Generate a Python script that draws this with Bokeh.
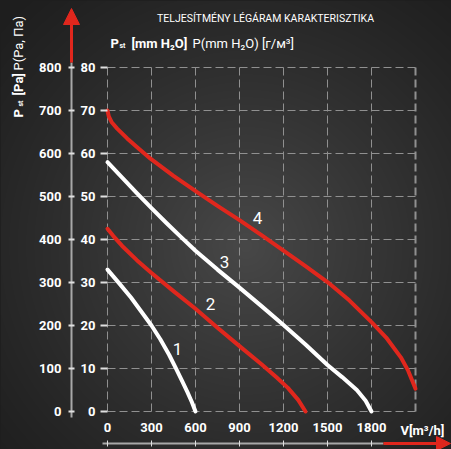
import numpy as np
from bokeh.plotting import figure
from bokeh.models import (Range1d, LinearAxis, FixedTicker, ColumnDataSource, Arrow,
                          NormalHead, GlobalInlineStyleSheet)
from bokeh.core.properties import value
from bokeh.embed import file_html
from bokeh.resources import INLINE

# ---------------- data ----------------
FLOW_TICKS = [0, 300, 600, 900, 1200, 1500, 1800]
GRID_X = [0, 300, 600, 900, 1200, 1500, 1800, 2100]
PA_TICKS = [0, 100, 200, 300, 400, 500, 600, 700, 800]
MM_TICKS = [0, 10, 20, 30, 40, 50, 60, 70, 80]

TITLE = "TELJESÍTMÉNY LÉGÁRAM KARAKTERISZTIKA"

C1_Q = [0, 80, 160, 240, 300, 360, 420, 470, 510, 545, 575, 600]
C1_P = [330, 298, 265, 228, 200, 168, 132, 98, 70, 45, 22, 0]

C2_Q = [0, 40, 100, 200, 300, 450, 600, 750, 900, 1050, 1150, 1230, 1300, 1350]
C2_P = [425, 408, 385, 352, 322, 280, 239, 195, 152, 110, 80, 55, 27, 0]

C3_Q = [0, 100, 200, 300, 400, 500, 600, 750, 900, 1050, 1200, 1350, 1500, 1600, 1700, 1760, 1800]
C3_P = [580, 544, 508, 473, 439, 406, 374, 330, 288, 245, 201, 156, 108, 80, 50, 25, 0]

C4_Q = [0, 9, 30, 66, 134, 200, 293, 450, 611, 750, 900, 1050, 1200, 1350, 1500, 1650,
        1800, 1900, 2000, 2050, 2080, 2100]
C4_P = [700, 686, 672, 658, 635, 615, 588, 548, 510, 478, 445, 410, 374, 338, 301, 258,
        208, 172, 126, 95, 70, 53]

CURVE_LABELS = ["1", "2", "3", "4"]
LABEL_Q = [477, 702, 798, 1023]
LABEL_P = [146, 251, 347, 449]

# ---------------- layout helpers (page pixels -> data) ----------------
W, H = 451, 449
FX0, FX1 = 107, 415      # x = 0 .. 2100
FY0, FY1 = 411, 67       # y = 0 .. 800


def XD(px):
    return (px - FX0) * (GRID_X[-1] - GRID_X[0]) / (FX1 - FX0)


def YD(py):
    return (FY0 - py) * (PA_TICKS[-1] - PA_TICKS[0]) / (FY0 - FY1)


x0, x1 = XD(0), XD(W)
y0, y1 = YD(H), YD(0)

RED = "#e0271d"
WHITE = "#ffffff"
GRID = "#909090"
FONT = "Roboto"

p = figure(width=W, height=H, x_range=Range1d(x0, x1), y_range=Range1d(y0, y1),
           output_backend="svg", toolbar_location=None, min_border=0,
           x_axis_type=None, y_axis_type=None)
p.outline_line_color = None
p.background_fill_color = "#1f1f1f"
p.border_fill_color = "#1f1f1f"
p.stylesheets = [GlobalInlineStyleSheet(
    css="html,body{margin:0;padding:0;background:#1f1f1f;overflow:hidden;}")]

# background radial gradient
yy, xx = np.mgrid[0:H, 0:W]
d = np.hypot(xx - 245, yy - 245)
t = np.clip(1 - d / 340.0, 0, 1) ** 1.2
v = (30 + 42 * t).astype(np.uint8)
img = np.empty((H, W), dtype=np.uint32)
view = img.view(dtype=np.uint8).reshape((H, W, 4))
view[..., 0] = v
view[..., 1] = v
view[..., 2] = v
view[..., 3] = 255
p.image_rgba(image=[img[::-1].copy()], x=x0, y=y0, dw=x1 - x0, dh=y1 - y0)

# grid
n = len(GRID_X)
p.segment(x0=GRID_X[:-1], x1=GRID_X[:-1], y0=[PA_TICKS[0]] * (n - 1), y1=[PA_TICKS[-1]] * (n - 1),
          line_color=GRID, line_width=1, line_dash="8 4")
p.segment(x0=GRID_X[-1:], x1=GRID_X[-1:], y0=[PA_TICKS[0]], y1=[PA_TICKS[-1]],
          line_color=GRID, line_width=2, line_dash="8 4")
m = len(PA_TICKS)
p.segment(x0=[GRID_X[0]] * m, x1=[GRID_X[-1]] * m, y0=PA_TICKS, y1=PA_TICKS,
          line_color=GRID, line_width=1, line_dash="8 4")

# curves
for q, pr, col in [(C1_Q, C1_P, WHITE), (C2_Q, C2_P, RED), (C3_Q, C3_P, WHITE), (C4_Q, C4_P, RED)]:
    p.line(q, pr, line_color=col, line_width=4, line_join="round", line_cap="round")

p.text(x=LABEL_Q, y=LABEL_P, text=CURVE_LABELS, text_color=WHITE, text_font=value(FONT),
       text_font_size="17px", text_align="center", text_baseline="middle")

# axes
p.extra_y_ranges = {"mm": Range1d(y0 / 10, y1 / 10)}


def style_labels(ax):
    ax.major_label_text_color = WHITE
    ax.major_label_text_font = FONT
    ax.major_label_text_font_style = "bold"
    ax.major_label_text_font_size = "13px"
    ax.minor_tick_line_color = None


ax_pa = LinearAxis(fixed_location=XD(71), ticker=FixedTicker(ticks=PA_TICKS),
                   bounds=(YD(417), YD(62)))
ax_pa.axis_line_color = "#a8a8a8"
ax_pa.axis_line_width = 2
ax_pa.major_tick_in = 3
ax_pa.major_tick_out = 3
ax_pa.major_tick_line_color = "#e0e0e0"
ax_pa.major_tick_line_width = 2
ax_pa.major_label_standoff = 7
style_labels(ax_pa)
p.add_layout(ax_pa, "left")

ax_mm = LinearAxis(y_range_name="mm", fixed_location=0, ticker=FixedTicker(ticks=MM_TICKS))
ax_mm.axis_line_color = None
ax_mm.major_tick_in = 0
ax_mm.major_tick_out = 7
ax_mm.major_tick_line_color = "#e0e0e0"
ax_mm.major_tick_line_width = 2
ax_mm.major_label_standoff = 5
style_labels(ax_mm)
p.add_layout(ax_mm, "left")

ax_x = LinearAxis(fixed_location=0, ticker=FixedTicker(ticks=FLOW_TICKS))
ax_x.axis_line_color = None
ax_x.major_tick_line_color = None
ax_x.major_label_standoff = 5
style_labels(ax_x)
p.add_layout(ax_x, "below")

ax_x2 = LinearAxis(fixed_location=YD(443), ticker=FixedTicker(ticks=FLOW_TICKS),
                   bounds=(XD(102), XD(383)))
ax_x2.axis_line_color = "#a8a8a8"
ax_x2.axis_line_width = 2
ax_x2.major_tick_in = 3
ax_x2.major_tick_out = 3
ax_x2.major_tick_line_color = "#e0e0e0"
ax_x2.minor_tick_line_color = None
ax_x2.major_label_overrides = {t: "" for t in FLOW_TICKS}
p.add_layout(ax_x2, "below")

# arrows
p.add_layout(Arrow(x_start=XD(71), y_start=YD(62), x_end=XD(71), y_end=YD(8),
                   line_color=RED, line_width=3,
                   end=NormalHead(size=16, fill_color=RED, line_color=RED, line_width=1)))
p.add_layout(Arrow(x_start=XD(383), y_start=YD(443), x_end=XD(450), y_end=YD(443),
                   line_color=RED, line_width=3,
                   end=NormalHead(size=14, fill_color=RED, line_color=RED, line_width=1)))

# texts
T_TEXT = [TITLE, "P", "st", "[mm H₂O]", "P(mm H₂O) [г/м³]", "V[m³/h]"]
T_X = [265, 110, 119, 131, 192, 400]
T_Y = [18, 43, 45, 43, 43, 430]
T_SIZE = ["10.5px", "13px", "7px", "13px", "13px", "13px"]
T_STYLE = ["normal", "bold", "bold", "bold", "normal", "bold"]
T_ALIGN = ["center", "left", "left", "left", "left", "left"]
src = ColumnDataSource(dict(x=[XD(v) for v in T_X], y=[YD(v) for v in T_Y], text=T_TEXT,
                            size=T_SIZE, style=T_STYLE, align=T_ALIGN))
p.text(x="x", y="y", text="text", source=src, text_color=WHITE, text_font=value(FONT),
       text_font_size="size", text_font_style="style", text_align="align",
       text_baseline="alphabetic")

# rotated y label
R_TEXT = ["P", "st", "[Pa]", "P(Pa, Па)"]
R_X = [18, 20, 18, 18]
R_Y = [117, 106, 95, 70]
R_SIZE = ["13px", "7px", "13px", "13px"]
R_STYLE = ["bold", "bold", "bold", "normal"]
rsrc = ColumnDataSource(dict(x=[XD(v) for v in R_X], y=[YD(v) for v in R_Y], text=R_TEXT,
                             size=R_SIZE, style=R_STYLE))
p.text(x="x", y="y", text="text", source=rsrc, angle=np.pi / 2, text_color=WHITE,
       text_font=value(FONT), text_font_size="size", text_font_style="style",
       text_align="left", text_baseline="alphabetic")

open("out.html", "w").write(file_html(p, INLINE))
